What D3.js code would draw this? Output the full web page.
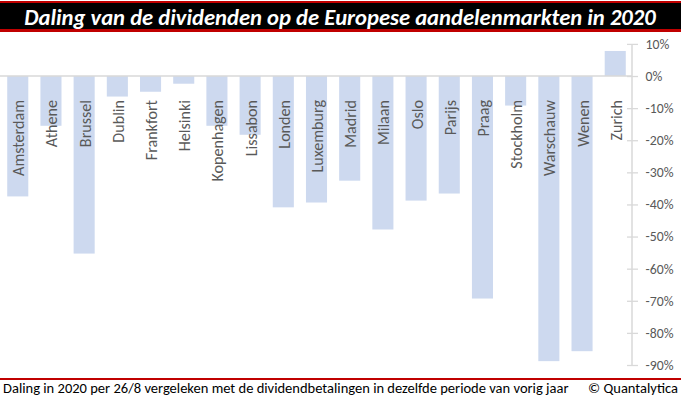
<!DOCTYPE html>
<html><head><meta charset="utf-8">
<script src="https://cdn.jsdelivr.net/npm/d3@7"></script>
<style>
body{margin:0;background:#fff;}
svg{display:block;}
</style></head>
<body>
<svg id="c" width="681" height="399"></svg>
<script>
const categories = ["Amsterdam","Athene","Brussel","Dublin","Frankfort","Helsinki","Kopenhagen","Lissabon","Londen","Luxemburg","Madrid","Milaan","Oslo","Parijs","Praag","Stockholm","Warschauw","Wenen","Zurich"];
const values = [-37.5,-15.5,-55.3,-6.4,-4.9,-2.4,-15.5,-18.3,-40.9,-39.4,-32.6,-47.8,-38.8,-36.6,-69.3,-9.2,-88.8,-85.7,7.8];
const tickValues = [10,0,-10,-20,-30,-40,-50,-60,-70,-80,-90];
const title = "Daling van de dividenden op de Europese aandelenmarkten in 2020";
const footnote = "Daling in 2020 per 26/8 vergeleken met de dividendbetalingen in dezelfde periode van vorig jaar";
const credit = "© Quantalytica";

const svg = d3.select("#c");
const font = "Carlito, Calibri, 'Open Sans', sans-serif";

// fit a font size so that a sample string gets a target width
function fitSize(sample, target, family, weight, style) {
  const t = svg.append("text").attr("font-family",family).attr("font-size",20)
    .attr("font-weight",weight||"normal").attr("font-style",style||"normal").text(sample);
  const w = t.node().getComputedTextLength();
  t.remove();
  return 20*target/w;
}

// title bar
svg.append("rect").attr("x",0).attr("y",1).attr("width",681).attr("height",31).attr("fill","#c00000");
svg.append("rect").attr("x",0).attr("y",3).attr("width",681).attr("height",26).attr("fill","#000");
const titleSize = fitSize(title, 632, font, "bold", "italic");
svg.append("text").attr("x",340).attr("y",24.5).attr("text-anchor","middle")
  .attr("font-family",font).attr("font-weight","bold").attr("font-style","italic")
  .attr("font-size",titleSize).attr("fill","#fff").text(title);

const x = d3.scaleBand().domain(categories).range([1.25,631.75]).paddingInner(0.365).paddingOuter(0.18);
const y = d3.scaleLinear().domain([-90,10]).range([365,43.9]);

svg.append("g").selectAll("rect").data(values).join("rect")
  .attr("x",(d,i)=>x(categories[i]))
  .attr("width",x.bandwidth())
  .attr("y",d=>y(Math.max(0,d)))
  .attr("height",d=>Math.abs(y(d)-y(0)))
  .attr("fill","#cdd9ef");

// zero line
svg.append("line").attr("x1",0).attr("x2",632).attr("y1",y(0)).attr("y2",y(0)).attr("stroke","#d9d9d9").attr("stroke-width",1.5);

// right axis
const tickSize = fitSize("-90%", 28, font);
const ax = svg.append("g").attr("transform","translate(632,0)")
  .call(d3.axisRight(y).tickValues(tickValues).tickSize(5).tickFormat(d=>d+"%"));
ax.select(".domain").attr("stroke","#d9d9d9").attr("stroke-width",1.5).attr("d","M0,"+y(10)+"V"+y(-90));
ax.selectAll(".tick line").attr("stroke","#d9d9d9").attr("x1",-5).attr("x2",6).attr("stroke-width",1.3);
ax.selectAll(".tick text").attr("x",13.5).attr("fill","#595959").attr("font-size",tickSize).attr("font-family",font);

// category labels
const labSize = fitSize("Amsterdam", 76, font);
svg.append("g").selectAll("text").data(categories).join("text")
  .attr("transform",d=>`translate(${x(d)+x.bandwidth()/2+6.5},100) rotate(-90)`)
  .attr("text-anchor","end").attr("font-family",font).attr("font-size",labSize).attr("fill","#595959")
  .text(d=>d);

// footer
svg.append("rect").attr("x",0).attr("y",378).attr("width",681).attr("height",2).attr("fill","#c00000");
const footSize = fitSize(footnote, 566, font);
svg.append("text").attr("x",3).attr("y",393).attr("font-family",font).attr("font-size",footSize).attr("fill","#000").text(footnote);
svg.append("text").attr("x",678).attr("y",393).attr("text-anchor","end").attr("font-family",font).attr("font-size",footSize).attr("fill","#000").text(credit);
</script>
</body></html>
